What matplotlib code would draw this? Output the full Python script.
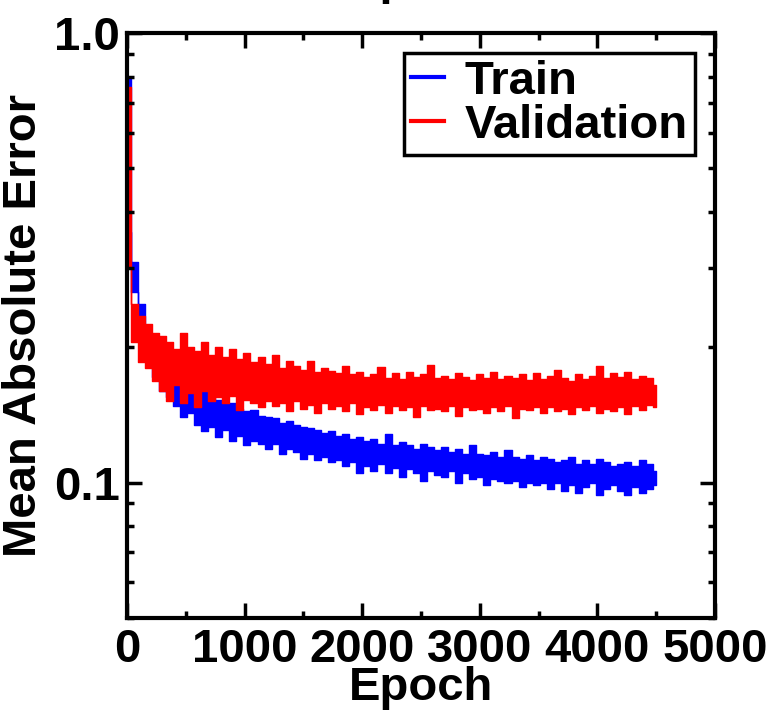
import numpy as np
import matplotlib
matplotlib.use('Agg')
import matplotlib.pyplot as plt
from matplotlib.lines import Line2D
from matplotlib.ticker import MultipleLocator, LogLocator, NullFormatter


# MAE band: upper and lower edge of the noisy curve
# every 60 epochs (0, 60, ..., 4500)
train_upper = [
	0.80, 0.31, 0.25, 0.215, 0.195, 0.182, 0.175, 0.168, 0.166, 0.162,
	0.158, 0.160, 0.155, 0.153, 0.150, 0.150, 0.146, 0.144, 0.145, 0.141,
	0.140, 0.139, 0.136, 0.137, 0.134, 0.133, 0.132, 0.131, 0.129, 0.130,
	0.127, 0.128, 0.125, 0.126, 0.124, 0.125, 0.122, 0.128, 0.121, 0.123,
	0.121, 0.119, 0.122, 0.120, 0.118, 0.120, 0.117, 0.119, 0.116, 0.121,
	0.116, 0.115, 0.117, 0.114, 0.118, 0.114, 0.113, 0.115, 0.112, 0.114,
	0.113, 0.111, 0.112, 0.114, 0.110, 0.112, 0.110, 0.113, 0.111, 0.109,
	0.110, 0.111, 0.109, 0.112, 0.110, 0.106,
]
train_lower = [
	0.36, 0.265, 0.215, 0.19, 0.172, 0.160, 0.155, 0.148, 0.140, 0.143,
	0.134, 0.130, 0.133, 0.126, 0.131, 0.124, 0.127, 0.121, 0.124, 0.122,
	0.119, 0.122, 0.116, 0.119, 0.117, 0.113, 0.116, 0.112, 0.114, 0.111,
	0.112, 0.109, 0.111, 0.105, 0.109, 0.106, 0.110, 0.105, 0.108, 0.103,
	0.107, 0.105, 0.101, 0.106, 0.104, 0.103, 0.106, 0.100, 0.105, 0.102,
	0.103, 0.099, 0.102, 0.101, 0.100, 0.101, 0.098, 0.100, 0.099, 0.100,
	0.097, 0.100, 0.096, 0.099, 0.095, 0.098, 0.100, 0.094, 0.097, 0.099,
	0.096, 0.094, 0.098, 0.095, 0.097, 0.099,
]
val_upper = [
	0.76, 0.25, 0.235, 0.225, 0.215, 0.212, 0.205, 0.198, 0.215, 0.200,
	0.196, 0.205, 0.192, 0.200, 0.190, 0.198, 0.188, 0.194, 0.185, 0.190,
	0.184, 0.192, 0.180, 0.186, 0.182, 0.178, 0.186, 0.176, 0.180, 0.177,
	0.175, 0.182, 0.174, 0.176, 0.172, 0.174, 0.181, 0.171, 0.175, 0.170,
	0.176, 0.172, 0.174, 0.183, 0.171, 0.173, 0.170, 0.175, 0.172, 0.169,
	0.174, 0.171, 0.176, 0.170, 0.173, 0.171, 0.174, 0.169, 0.175, 0.170,
	0.173, 0.178, 0.171, 0.168, 0.174, 0.170, 0.173, 0.182, 0.171, 0.175,
	0.172, 0.176, 0.170, 0.173, 0.171, 0.165,
]
val_lower = [
	0.30, 0.205, 0.185, 0.180, 0.168, 0.160, 0.152, 0.165, 0.150, 0.158,
	0.147, 0.160, 0.152, 0.155, 0.150, 0.156, 0.145, 0.153, 0.150, 0.147,
	0.152, 0.148, 0.150, 0.144, 0.152, 0.146, 0.149, 0.143, 0.150, 0.146,
	0.148, 0.144, 0.150, 0.142, 0.147, 0.145, 0.149, 0.143, 0.148, 0.145,
	0.147, 0.140, 0.148, 0.145, 0.146, 0.144, 0.148, 0.141, 0.147, 0.145,
	0.146, 0.143, 0.147, 0.144, 0.148, 0.139, 0.146, 0.145, 0.147, 0.143,
	0.147, 0.144, 0.146, 0.142, 0.147, 0.145, 0.148, 0.143, 0.146, 0.144,
	0.147, 0.142, 0.148, 0.145, 0.149, 0.147,
]

epochs = np.arange(len(train_upper)) * 60
series_labels = ['Train', 'Validation']
series_colors = ['#0000ff', '#ff0000']


plt.rcParams['font.family'] = ['Liberation Sans', 'DejaVu Sans']
plt.rcParams['font.weight'] = 'bold'
fs = 34

fig = plt.figure(figsize=(7.71, 7.15), dpi=100)
ax = fig.add_axes([0.1647, 0.1357, 0.7626, 0.8182])

# the noisy curves come out as solid bands with blocky edges
for up, lo, c in [(train_upper, train_lower, series_colors[0]),
		(val_upper, val_lower, series_colors[1])]:
	ax.fill_between(epochs, lo, up, step='mid', facecolor=c, edgecolor=c, lw=1.0)

ax.set_yscale('log')
ax.set_ylim(0.05, 1.0)
ax.set_xlim(0, 5000)

ax.set_yticks([0.1, 1.0])
ax.set_yticklabels(['0.1', '1.0'])
ax.yaxis.set_minor_locator(LogLocator(base=10, subs=np.arange(2, 10)))
ax.yaxis.set_minor_formatter(NullFormatter())
ax.xaxis.set_major_locator(MultipleLocator(1000))
ax.xaxis.set_minor_locator(MultipleLocator(500))

ax.tick_params(which='both', direction='in', top=True, right=True, width=2.5)
ax.tick_params(which='major', length=11, labelsize=fs)
ax.tick_params(which='minor', length=5)
ax.tick_params(axis='x', pad=7)
ax.tick_params(axis='y', pad=5)
for s in ax.spines.values():
	s.set_linewidth(3)

ax.set_xlabel('Epoch', fontsize=fs, fontweight='bold', labelpad=-4)
ax.set_ylabel('Mean Absolute Error', fontsize=fs, fontweight='bold', labelpad=6)
ax.set_title('Epoch', fontsize=fs, fontweight='bold', pad=28)

handles = [Line2D([], [], color=c, lw=3) for c in series_colors]
leg = ax.legend(handles, series_labels, loc='upper right', fontsize=fs,
	handlelength=0.7, handletextpad=0.45, borderpad=0.15, labelspacing=0.0,
	borderaxespad=0.42, fancybox=False, framealpha=1, edgecolor='black')
leg.get_frame().set_linewidth(2.5)

fig.savefig('out.png', dpi=100)
